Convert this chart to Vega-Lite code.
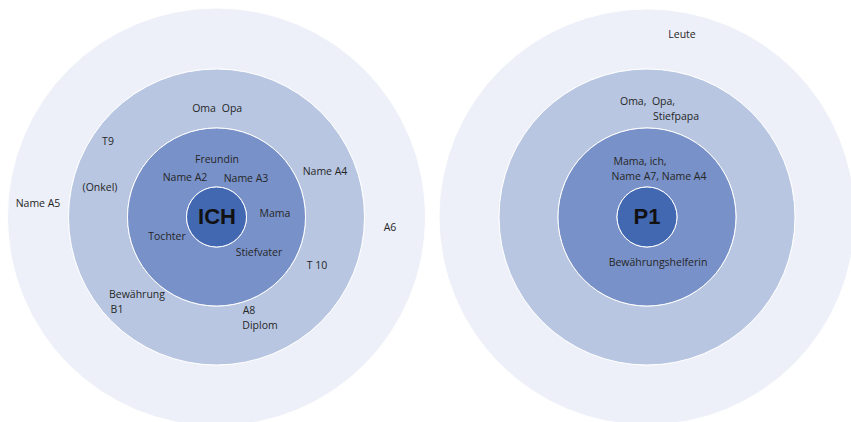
{
  "$schema": "https://vega.github.io/schema/vega-lite/v6.json",
  "width": 851,
  "height": 422,
  "autosize": {"type": "fit", "contains": "padding"},
  "padding": 0,
  "background": "white",
  "config": {"view": {"stroke": null}},
  "datasets": {
    "rings": [
      {"diagram": "ICH", "level": "outer", "cx": 216.5, "cy": 217, "r_out": 209, "r_in": 148},
      {"diagram": "ICH", "level": "middle", "cx": 216.5, "cy": 217, "r_out": 148, "r_in": 89},
      {"diagram": "ICH", "level": "inner", "cx": 216.5, "cy": 217, "r_out": 89, "r_in": 30},
      {"diagram": "ICH", "level": "core", "cx": 216.5, "cy": 217, "r_out": 30, "r_in": 0},
      {"diagram": "P1", "level": "outer", "cx": 647, "cy": 217, "r_out": 208, "r_in": 148},
      {"diagram": "P1", "level": "middle", "cx": 647, "cy": 217, "r_out": 148, "r_in": 89},
      {"diagram": "P1", "level": "inner", "cx": 647, "cy": 217, "r_out": 89, "r_in": 30},
      {"diagram": "P1", "level": "core", "cx": 647, "cy": 217, "r_out": 30, "r_in": 0}
    ],
    "labels": [
      {"label": "Oma", "x": 204, "y": 109},
      {"label": "Opa", "x": 232, "y": 109},
      {"label": "T9", "x": 108, "y": 142},
      {"label": "(Onkel)", "x": 100, "y": 188},
      {"label": "Name A5", "x": 38, "y": 204},
      {"label": "Freundin", "x": 217, "y": 160},
      {"label": "Name A2", "x": 185, "y": 178},
      {"label": "Name A3", "x": 246, "y": 179},
      {"label": "Name A4", "x": 325, "y": 172},
      {"label": "Mama", "x": 275, "y": 214},
      {"label": "A6", "x": 390, "y": 228},
      {"label": "Tochter", "x": 167, "y": 237},
      {"label": "Stiefvater", "x": 259, "y": 253},
      {"label": "T 10", "x": 317, "y": 266},
      {"label": "Bewährung", "x": 137, "y": 295},
      {"label": "B1", "x": 117, "y": 310},
      {"label": "A8", "x": 249, "y": 311},
      {"label": "Diplom", "x": 260, "y": 326},
      {"label": "Leute", "x": 682, "y": 35},
      {"label": "Oma,\u00a0 Opa,", "x": 647.5, "y": 102},
      {"label": "Stiefpapa", "x": 676, "y": 117},
      {"label": "Mama, ich,", "x": 640, "y": 162},
      {"label": "Name A7, Name A4", "x": 659, "y": 177},
      {"label": "Bewährungshelferin", "x": 658, "y": 263}
    ],
    "centers": [
      {"label": "ICH", "x": 217, "y": 217},
      {"label": "P1", "x": 647, "y": 217}
    ]
  },
  "layer": [
    {
      "data": {"name": "rings"},
      "mark": {"type": "arc", "stroke": "white", "strokeWidth": 1, "clip": true},
      "encoding": {
        "x": {"field": "cx", "type": "quantitative", "scale": {"domain": [0, 851], "nice": false, "zero": false}, "axis": null},
        "y": {"field": "cy", "type": "quantitative", "scale": {"domain": [0, 422], "reverse": true, "nice": false, "zero": false}, "axis": null},
        "radius": {"field": "r_out", "type": "quantitative", "stack": null, "scale": {"type": "linear", "domain": [0, 211], "range": [0, 211], "zero": true}},
        "radius2": {"field": "r_in"},
        "color": {"field": "level", "type": "nominal", "scale": {"domain": ["outer", "middle", "inner", "core"], "range": ["#edf0f8", "#b8c6e2", "#7891c9", "#4268b2"]}, "legend": null}
      }
    },
    {
      "data": {"name": "labels"},
      "mark": {"type": "text", "font": "Open Sans", "fontSize": 10.5, "color": "#262626", "align": "center", "baseline": "middle"},
      "encoding": {
        "x": {"field": "x", "type": "quantitative"},
        "y": {"field": "y", "type": "quantitative"},
        "text": {"field": "label"}
      }
    },
    {
      "data": {"name": "centers"},
      "mark": {"type": "text", "font": "Liberation Sans", "fontSize": 22, "fontWeight": "bold", "color": "#111111", "align": "center", "baseline": "middle"},
      "encoding": {
        "x": {"field": "x", "type": "quantitative"},
        "y": {"field": "y", "type": "quantitative"},
        "text": {"field": "label"}
      }
    }
  ]
}
